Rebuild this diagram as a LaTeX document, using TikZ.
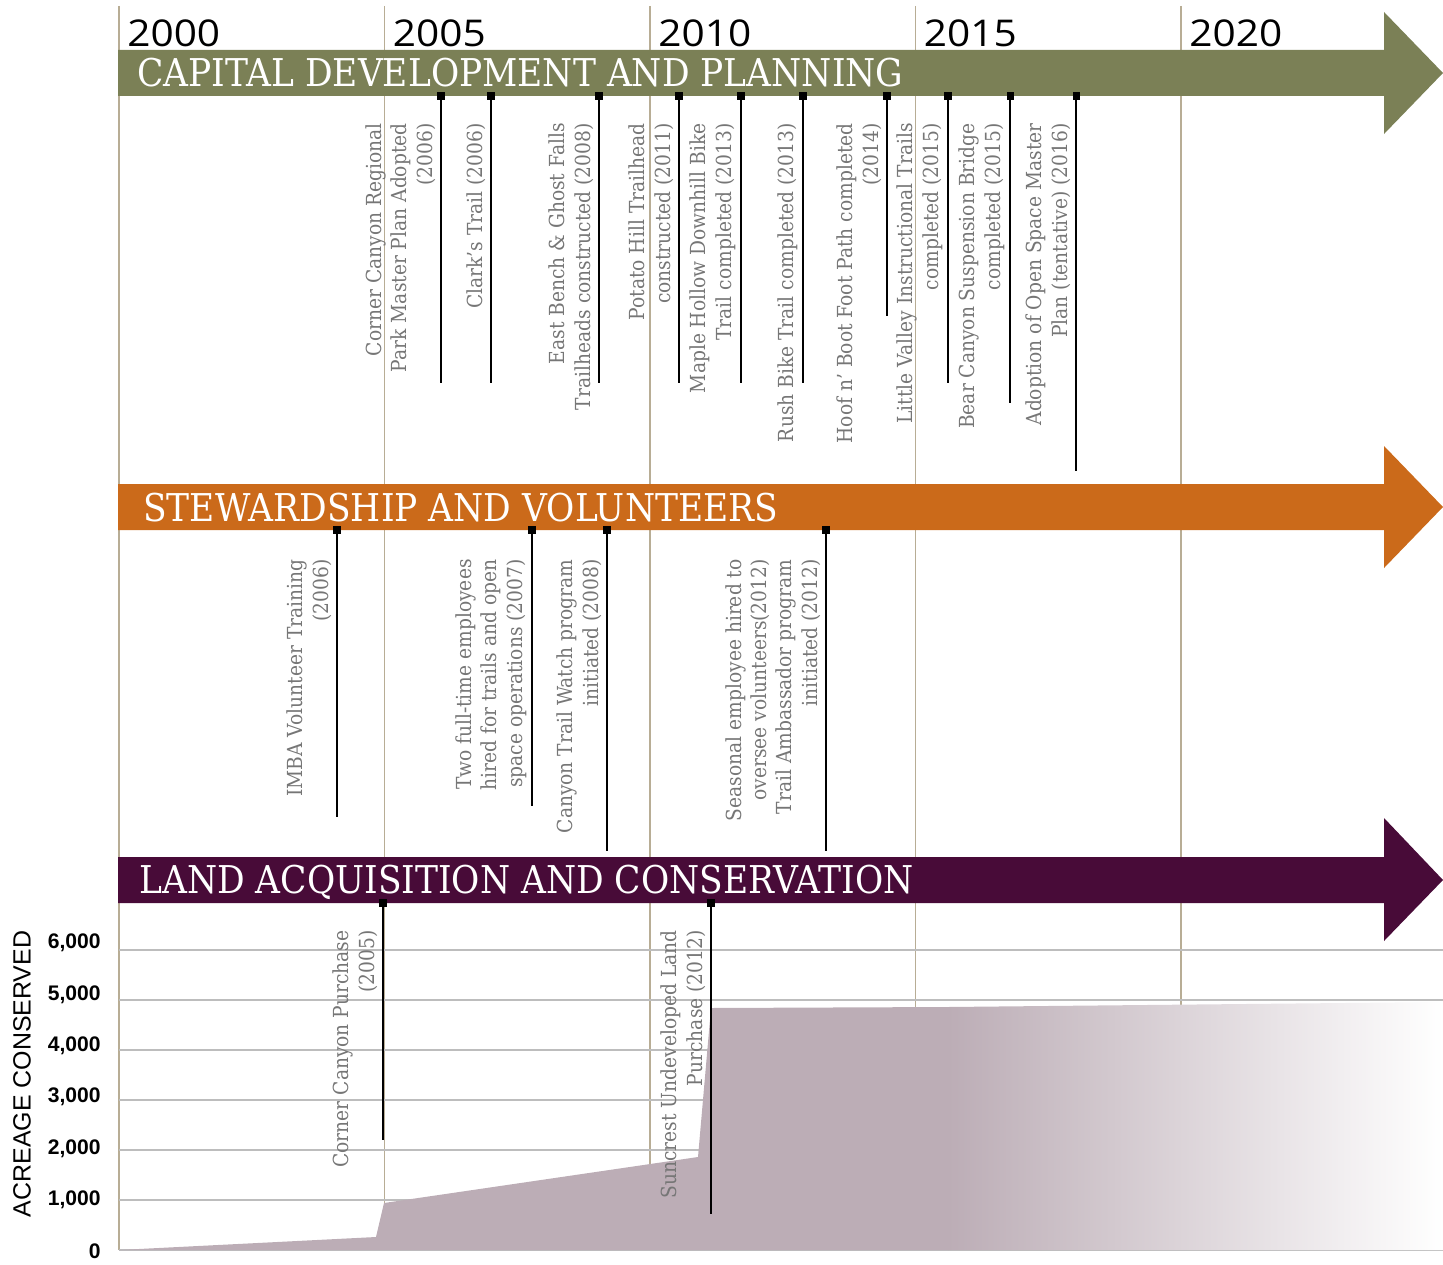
\documentclass[tikz,border=0pt]{standalone}
\usepackage{fontspec}
\usetikzlibrary{calc}

\newfontfamily\titlefont[FakeStretch=0.9]{DejaVu Serif}
\newfontfamily\eventfont[FakeStretch=0.9]{DejaVu Serif}
\newfontfamily\yearfont[FakeStretch=1.1]{Open Sans}
\newfontfamily\axisfont{Liberation Sans}

\definecolor{capGreen}{HTML}{7B8056}
\definecolor{stewOrange}{HTML}{CB6A1A}
\definecolor{landPurple}{HTML}{480B38}
\definecolor{acreFill}{HTML}{BCADB6}
\definecolor{yearLine}{HTML}{B8AD95}
\definecolor{gridGrey}{HTML}{BDBDBD}
\definecolor{eventGrey}{HTML}{767676}

\tikzset{
 yearline/.style={draw=yearLine, line width=0.85pt},
 gridline/.style={draw=gridGrey, line width=0.8pt},
 bartitle/.style={anchor=base west, inner sep=0, text=white, font=\titlefont\fontsize{21.8}{26}\selectfont},
 yearlabel/.style={anchor=base west, inner sep=0, font=\yearfont\fontsize{21}{25}\selectfont},
 event/.style={rotate=90, anchor=south east, inner sep=0, align=right, text=eventGrey, font=\eventfont\fontsize{11.8}{14.5}\selectfont},
 marker/.style={fill=black, inner sep=0, minimum size=4pt},
 stem/.style={draw=black, line width=1.1pt},
 ticklabel/.style={anchor=east, inner sep=0, font=\axisfont\bfseries\fontsize{12}{14}\selectfont},
}

\begin{document}
\begin{tikzpicture}[x=0.02cm, y=-0.02cm]
 \useasboundingbox (0,0) rectangle (1443,1264);

 \foreach \yr [count=\i from 0] in {2000,2005,2010,2015,2020} {
  \draw[yearline] (119+265.5*\i,6) -- (119+265.5*\i,1250);
  \node[yearlabel] (year\i) at (127+265.5*\i,47) {\yr};
 }

 \foreach \i/\lab in {0/0,1/{1,000},2/{2,000},3/{3,000},4/{4,000},5/{5,000},6/{6,000}} {
  \draw[gridline] (119,1250-50*\i) -- (1443,1250-50*\i);
  \node[ticklabel] (tick\i) at (101,1251-51.3*\i) {\lab};
 }
 \node[rotate=90, inner sep=0, font=\axisfont\fontsize{14.2}{17}\selectfont] (axistitle) at (22,1074) {ACREAGE CONSERVED};

 \fill[acreFill] (119,1250) -- (376,1237) -- (384,1203) -- (698,1157) -- (711,1008) -- (949,1007) -- (949,1250) -- cycle;
 \shade[left color=acreFill, right color=white] (948,1007) -- (1443,1002) -- (1443,1250) -- (948,1250) -- cycle;

 \fill[capGreen] (118,50) -- (1384,50) -- (1384,12) -- (1443,73) -- (1384,134) -- (1384,96) -- (118,96) -- cycle;
 \fill[stewOrange] (118,484) -- (1384,484) -- (1384,446) -- (1443,507) -- (1384,568) -- (1384,530) -- (118,530) -- cycle;
 \fill[landPurple] (118,857) -- (1384,857) -- (1384,818) -- (1443,880) -- (1384,941) -- (1384,903) -- (118,903) -- cycle;

 \node[bartitle] (captitle) at (137,87) {CAPITAL DEVELOPMENT AND PLANNING};
 \node[bartitle] (stewtitle) at (143,521) {STEWARDSHIP AND VOLUNTEERS};
 \node[bartitle] (landtitle) at (139,893) {LAND ACQUISITION AND CONSERVATION};

 \foreach \ex/\eb/\etxt [count=\i] in {
  441/383/{Corner Canyon Regional\\Park Master Plan Adopted\\(2006)},
  491/383/{Clark’s Trail (2006)},
  599/383/{East Bench \& Ghost Falls\\Trailheads constructed (2008)},
  679/383/{Potato Hill Trailhead\\constructed (2011)},
  741/383/{Maple Hollow Downhill Bike\\Trail completed (2013)},
  803/383/{Rush Bike Trail completed (2013)},
  887/316/{Hoof n’ Boot Foot Path completed\\(2014)},
  948/383/{Little Valley Instructional Trails\\completed (2015)},
  1010/403/{Bear Canyon Suspension Bridge\\completed (2015)},
  1076/471/{Adoption of Open Space Master\\Plan (tentative) (2016)}} {
  \coordinate (capend\i) at (\ex,\eb);
  \node[marker] (cap\i) at (\ex,96) {};
  \draw[stem] (cap\i.center) -- (capend\i);
  \node[event] (captxt\i) at (\ex-5,123) {\etxt};
 }

 \foreach \ex/\eb/\etxt [count=\i] in {
  337/817/{IMBA Volunteer Training\\(2006)},
  532/806/{Two full-time employees\\hired for trails and open\\space operations (2007)},
  607/851/{Canyon Trail Watch program\\initiated (2008)},
  826/851/{Seasonal employee hired to\\oversee volunteers(2012)\\Trail Ambassador program\\initiated (2012)}} {
  \coordinate (stewend\i) at (\ex,\eb);
  \node[marker] (stew\i) at (\ex,530) {};
  \draw[stem] (stew\i.center) -- (stewend\i);
  \node[event] (stewtxt\i) at (\ex-5,559) {\etxt};
 }

 \foreach \ex/\eb/\etxt [count=\i] in {
  383/1140/{Corner Canyon Purchase\\(2005)},
  711/1214/{Suncrest Undeveloped Land\\Purchase (2012)}} {
  \coordinate (landend\i) at (\ex,\eb);
  \node[marker] (land\i) at (\ex,903) {};
  \draw[stem] (land\i.center) -- (landend\i);
  \node[event] (landtxt\i) at (\ex-5,930) {\etxt};
 }
\end{tikzpicture}
\end{document}
